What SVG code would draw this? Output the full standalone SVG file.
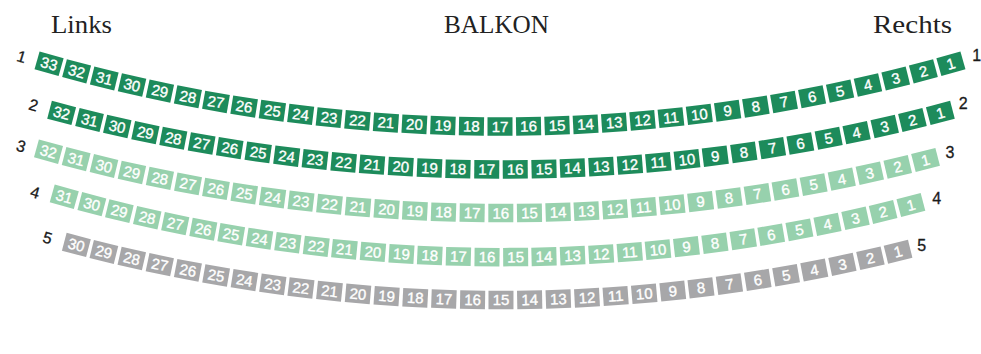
<svg xmlns="http://www.w3.org/2000/svg" width="981" height="354" viewBox="0 0 981 354">
<style>
.seat text{font-family:"Liberation Sans",Arial,sans-serif;font-size:15px;fill:#fff;stroke:#fff;stroke-width:0.35;text-anchor:middle}
.dark rect{fill:#1d8b5b}
.light rect{fill:#97d1ad}
.gray rect{fill:#a7a7a9}
.lbl{font-family:"Liberation Sans",Arial,sans-serif;font-size:16px;fill:#1a1a1a;stroke:#1a1a1a;stroke-width:0.3;text-anchor:middle}
.title{font-family:"Liberation Serif","Times New Roman",serif;font-size:26px;fill:#222}
</style>
<rect width="981" height="354" fill="#fff"/>
<g id="titles">
<text class="title" x="51" y="33" textLength="61" lengthAdjust="spacingAndGlyphs">Links</text>
<text class="title" x="444" y="33" textLength="105" lengthAdjust="spacingAndGlyphs">BALKON</text>
<text class="title" x="873" y="33" textLength="79" lengthAdjust="spacingAndGlyphs">Rechts</text>
</g>
<g id="labels">
<text class="lbl" transform="translate(20,62) rotate(16.8)">1</text>
<text class="lbl" transform="translate(32,110.5) rotate(15.6)">2</text>
<text class="lbl" transform="translate(19.5,151.5) rotate(16.3)">3</text>
<text class="lbl" transform="translate(33.5,197.8) rotate(16.7)">4</text>
<text class="lbl" transform="translate(46,243.2) rotate(15.8)">5</text>
<text class="lbl" x="976.7" y="61">1</text>
<text class="lbl" x="963.3" y="109.3">2</text>
<text class="lbl" x="950" y="157.7">3</text>
<text class="lbl" x="936.7" y="204.3">4</text>
<text class="lbl" x="921.7" y="251">5</text>
</g>
<g id="row1" class="seat dark" transform="translate(500,-1525.5)">
<g id="r1s1" transform="rotate(-15.84)"><rect x="-12.5" y="1642.75" width="25" height="18.5"/><text y="1657.3">1</text></g>
<g id="r1s2" transform="rotate(-14.85)"><rect x="-12.5" y="1642.75" width="25" height="18.5"/><text y="1657.3">2</text></g>
<g id="r1s3" transform="rotate(-13.86)"><rect x="-12.5" y="1642.75" width="25" height="18.5"/><text y="1657.3">3</text></g>
<g id="r1s4" transform="rotate(-12.87)"><rect x="-12.5" y="1642.75" width="25" height="18.5"/><text y="1657.3">4</text></g>
<g id="r1s5" transform="rotate(-11.88)"><rect x="-12.5" y="1642.75" width="25" height="18.5"/><text y="1657.3">5</text></g>
<g id="r1s6" transform="rotate(-10.89)"><rect x="-12.5" y="1642.75" width="25" height="18.5"/><text y="1657.3">6</text></g>
<g id="r1s7" transform="rotate(-9.90)"><rect x="-12.5" y="1642.75" width="25" height="18.5"/><text y="1657.3">7</text></g>
<g id="r1s8" transform="rotate(-8.91)"><rect x="-12.5" y="1642.75" width="25" height="18.5"/><text y="1657.3">8</text></g>
<g id="r1s9" transform="rotate(-7.92)"><rect x="-12.5" y="1642.75" width="25" height="18.5"/><text y="1657.3">9</text></g>
<g id="r1s10" transform="rotate(-6.93)"><rect x="-12.5" y="1642.75" width="25" height="18.5"/><text y="1657.3">10</text></g>
<g id="r1s11" transform="rotate(-5.94)"><rect x="-12.5" y="1642.75" width="25" height="18.5"/><text y="1657.3">11</text></g>
<g id="r1s12" transform="rotate(-4.95)"><rect x="-12.5" y="1642.75" width="25" height="18.5"/><text y="1657.3">12</text></g>
<g id="r1s13" transform="rotate(-3.96)"><rect x="-12.5" y="1642.75" width="25" height="18.5"/><text y="1657.3">13</text></g>
<g id="r1s14" transform="rotate(-2.97)"><rect x="-12.5" y="1642.75" width="25" height="18.5"/><text y="1657.3">14</text></g>
<g id="r1s15" transform="rotate(-1.98)"><rect x="-12.5" y="1642.75" width="25" height="18.5"/><text y="1657.3">15</text></g>
<g id="r1s16" transform="rotate(-0.99)"><rect x="-12.5" y="1642.75" width="25" height="18.5"/><text y="1657.3">16</text></g>
<g id="r1s17" transform="rotate(0)"><rect x="-12.5" y="1642.75" width="25" height="18.5"/><text y="1657.3">17</text></g>
<g id="r1s18" transform="rotate(0.99)"><rect x="-12.5" y="1642.75" width="25" height="18.5"/><text y="1657.3">18</text></g>
<g id="r1s19" transform="rotate(1.98)"><rect x="-12.5" y="1642.75" width="25" height="18.5"/><text y="1657.3">19</text></g>
<g id="r1s20" transform="rotate(2.97)"><rect x="-12.5" y="1642.75" width="25" height="18.5"/><text y="1657.3">20</text></g>
<g id="r1s21" transform="rotate(3.96)"><rect x="-12.5" y="1642.75" width="25" height="18.5"/><text y="1657.3">21</text></g>
<g id="r1s22" transform="rotate(4.95)"><rect x="-12.5" y="1642.75" width="25" height="18.5"/><text y="1657.3">22</text></g>
<g id="r1s23" transform="rotate(5.94)"><rect x="-12.5" y="1642.75" width="25" height="18.5"/><text y="1657.3">23</text></g>
<g id="r1s24" transform="rotate(6.93)"><rect x="-12.5" y="1642.75" width="25" height="18.5"/><text y="1657.3">24</text></g>
<g id="r1s25" transform="rotate(7.92)"><rect x="-12.5" y="1642.75" width="25" height="18.5"/><text y="1657.3">25</text></g>
<g id="r1s26" transform="rotate(8.91)"><rect x="-12.5" y="1642.75" width="25" height="18.5"/><text y="1657.3">26</text></g>
<g id="r1s27" transform="rotate(9.90)"><rect x="-12.5" y="1642.75" width="25" height="18.5"/><text y="1657.3">27</text></g>
<g id="r1s28" transform="rotate(10.89)"><rect x="-12.5" y="1642.75" width="25" height="18.5"/><text y="1657.3">28</text></g>
<g id="r1s29" transform="rotate(11.88)"><rect x="-12.5" y="1642.75" width="25" height="18.5"/><text y="1657.3">29</text></g>
<g id="r1s30" transform="rotate(12.87)"><rect x="-12.5" y="1642.75" width="25" height="18.5"/><text y="1657.3">30</text></g>
<g id="r1s31" transform="rotate(13.86)"><rect x="-12.5" y="1642.75" width="25" height="18.5"/><text y="1657.3">31</text></g>
<g id="r1s32" transform="rotate(14.85)"><rect x="-12.5" y="1642.75" width="25" height="18.5"/><text y="1657.3">32</text></g>
<g id="r1s33" transform="rotate(15.84)"><rect x="-12.5" y="1642.75" width="25" height="18.5"/><text y="1657.3">33</text></g>
</g>
<g id="row2" class="seat dark" transform="translate(501,-1566.5)">
<g id="r2s1" transform="rotate(-14.66)"><rect x="-12.5" y="1726.75" width="25" height="18.5"/><text y="1741.3">1</text></g>
<g id="r2s2" transform="rotate(-13.71)"><rect x="-12.5" y="1726.75" width="25" height="18.5"/><text y="1741.3">2</text></g>
<g id="r2s3" transform="rotate(-12.77)"><rect x="-12.5" y="1726.75" width="25" height="18.5"/><text y="1741.3">3</text></g>
<g id="r2s4" transform="rotate(-11.82)"><rect x="-12.5" y="1726.75" width="25" height="18.5"/><text y="1741.3">4</text></g>
<g id="r2s5" transform="rotate(-10.88)"><rect x="-12.5" y="1726.75" width="25" height="18.5"/><text y="1741.3">5</text></g>
<g id="r2s6" transform="rotate(-9.93)"><rect x="-12.5" y="1726.75" width="25" height="18.5"/><text y="1741.3">6</text></g>
<g id="r2s7" transform="rotate(-8.99)"><rect x="-12.5" y="1726.75" width="25" height="18.5"/><text y="1741.3">7</text></g>
<g id="r2s8" transform="rotate(-8.04)"><rect x="-12.5" y="1726.75" width="25" height="18.5"/><text y="1741.3">8</text></g>
<g id="r2s9" transform="rotate(-7.09)"><rect x="-12.5" y="1726.75" width="25" height="18.5"/><text y="1741.3">9</text></g>
<g id="r2s10" transform="rotate(-6.15)"><rect x="-12.5" y="1726.75" width="25" height="18.5"/><text y="1741.3">10</text></g>
<g id="r2s11" transform="rotate(-5.20)"><rect x="-12.5" y="1726.75" width="25" height="18.5"/><text y="1741.3">11</text></g>
<g id="r2s12" transform="rotate(-4.26)"><rect x="-12.5" y="1726.75" width="25" height="18.5"/><text y="1741.3">12</text></g>
<g id="r2s13" transform="rotate(-3.31)"><rect x="-12.5" y="1726.75" width="25" height="18.5"/><text y="1741.3">13</text></g>
<g id="r2s14" transform="rotate(-2.36)"><rect x="-12.5" y="1726.75" width="25" height="18.5"/><text y="1741.3">14</text></g>
<g id="r2s15" transform="rotate(-1.42)"><rect x="-12.5" y="1726.75" width="25" height="18.5"/><text y="1741.3">15</text></g>
<g id="r2s16" transform="rotate(-0.47)"><rect x="-12.5" y="1726.75" width="25" height="18.5"/><text y="1741.3">16</text></g>
<g id="r2s17" transform="rotate(0.47)"><rect x="-12.5" y="1726.75" width="25" height="18.5"/><text y="1741.3">17</text></g>
<g id="r2s18" transform="rotate(1.42)"><rect x="-12.5" y="1726.75" width="25" height="18.5"/><text y="1741.3">18</text></g>
<g id="r2s19" transform="rotate(2.36)"><rect x="-12.5" y="1726.75" width="25" height="18.5"/><text y="1741.3">19</text></g>
<g id="r2s20" transform="rotate(3.31)"><rect x="-12.5" y="1726.75" width="25" height="18.5"/><text y="1741.3">20</text></g>
<g id="r2s21" transform="rotate(4.26)"><rect x="-12.5" y="1726.75" width="25" height="18.5"/><text y="1741.3">21</text></g>
<g id="r2s22" transform="rotate(5.20)"><rect x="-12.5" y="1726.75" width="25" height="18.5"/><text y="1741.3">22</text></g>
<g id="r2s23" transform="rotate(6.15)"><rect x="-12.5" y="1726.75" width="25" height="18.5"/><text y="1741.3">23</text></g>
<g id="r2s24" transform="rotate(7.09)"><rect x="-12.5" y="1726.75" width="25" height="18.5"/><text y="1741.3">24</text></g>
<g id="r2s25" transform="rotate(8.04)"><rect x="-12.5" y="1726.75" width="25" height="18.5"/><text y="1741.3">25</text></g>
<g id="r2s26" transform="rotate(8.99)"><rect x="-12.5" y="1726.75" width="25" height="18.5"/><text y="1741.3">26</text></g>
<g id="r2s27" transform="rotate(9.93)"><rect x="-12.5" y="1726.75" width="25" height="18.5"/><text y="1741.3">27</text></g>
<g id="r2s28" transform="rotate(10.88)"><rect x="-12.5" y="1726.75" width="25" height="18.5"/><text y="1741.3">28</text></g>
<g id="r2s29" transform="rotate(11.82)"><rect x="-12.5" y="1726.75" width="25" height="18.5"/><text y="1741.3">29</text></g>
<g id="r2s30" transform="rotate(12.77)"><rect x="-12.5" y="1726.75" width="25" height="18.5"/><text y="1741.3">30</text></g>
<g id="r2s31" transform="rotate(13.71)"><rect x="-12.5" y="1726.75" width="25" height="18.5"/><text y="1741.3">31</text></g>
<g id="r2s32" transform="rotate(14.66)"><rect x="-12.5" y="1726.75" width="25" height="18.5"/><text y="1741.3">32</text></g>
</g>
<g id="row3" class="seat light" transform="translate(502.6,-1496.9)">
<g id="r3s1" transform="rotate(-14.32)"><rect x="-12.5" y="1700.75" width="25" height="18.5"/><text y="1715.3">1</text></g>
<g id="r3s2" transform="rotate(-13.36)"><rect x="-12.5" y="1700.75" width="25" height="18.5"/><text y="1715.3">2</text></g>
<g id="r3s3" transform="rotate(-12.40)"><rect x="-12.5" y="1700.75" width="25" height="18.5"/><text y="1715.3">3</text></g>
<g id="r3s4" transform="rotate(-11.44)"><rect x="-12.5" y="1700.75" width="25" height="18.5"/><text y="1715.3">4</text></g>
<g id="r3s5" transform="rotate(-10.48)"><rect x="-12.5" y="1700.75" width="25" height="18.5"/><text y="1715.3">5</text></g>
<g id="r3s6" transform="rotate(-9.52)"><rect x="-12.5" y="1700.75" width="25" height="18.5"/><text y="1715.3">6</text></g>
<g id="r3s7" transform="rotate(-8.57)"><rect x="-12.5" y="1700.75" width="25" height="18.5"/><text y="1715.3">7</text></g>
<g id="r3s8" transform="rotate(-7.61)"><rect x="-12.5" y="1700.75" width="25" height="18.5"/><text y="1715.3">8</text></g>
<g id="r3s9" transform="rotate(-6.65)"><rect x="-12.5" y="1700.75" width="25" height="18.5"/><text y="1715.3">9</text></g>
<g id="r3s10" transform="rotate(-5.69)"><rect x="-12.5" y="1700.75" width="25" height="18.5"/><text y="1715.3">10</text></g>
<g id="r3s11" transform="rotate(-4.73)"><rect x="-12.5" y="1700.75" width="25" height="18.5"/><text y="1715.3">11</text></g>
<g id="r3s12" transform="rotate(-3.77)"><rect x="-12.5" y="1700.75" width="25" height="18.5"/><text y="1715.3">12</text></g>
<g id="r3s13" transform="rotate(-2.81)"><rect x="-12.5" y="1700.75" width="25" height="18.5"/><text y="1715.3">13</text></g>
<g id="r3s14" transform="rotate(-1.86)"><rect x="-12.5" y="1700.75" width="25" height="18.5"/><text y="1715.3">14</text></g>
<g id="r3s15" transform="rotate(-0.90)"><rect x="-12.5" y="1700.75" width="25" height="18.5"/><text y="1715.3">15</text></g>
<g id="r3s16" transform="rotate(0.06)"><rect x="-12.5" y="1700.75" width="25" height="18.5"/><text y="1715.3">16</text></g>
<g id="r3s17" transform="rotate(1.02)"><rect x="-12.5" y="1700.75" width="25" height="18.5"/><text y="1715.3">17</text></g>
<g id="r3s18" transform="rotate(1.98)"><rect x="-12.5" y="1700.75" width="25" height="18.5"/><text y="1715.3">18</text></g>
<g id="r3s19" transform="rotate(2.94)"><rect x="-12.5" y="1700.75" width="25" height="18.5"/><text y="1715.3">19</text></g>
<g id="r3s20" transform="rotate(3.89)"><rect x="-12.5" y="1700.75" width="25" height="18.5"/><text y="1715.3">20</text></g>
<g id="r3s21" transform="rotate(4.85)"><rect x="-12.5" y="1700.75" width="25" height="18.5"/><text y="1715.3">21</text></g>
<g id="r3s22" transform="rotate(5.81)"><rect x="-12.5" y="1700.75" width="25" height="18.5"/><text y="1715.3">22</text></g>
<g id="r3s23" transform="rotate(6.77)"><rect x="-12.5" y="1700.75" width="25" height="18.5"/><text y="1715.3">23</text></g>
<g id="r3s24" transform="rotate(7.73)"><rect x="-12.5" y="1700.75" width="25" height="18.5"/><text y="1715.3">24</text></g>
<g id="r3s25" transform="rotate(8.69)"><rect x="-12.5" y="1700.75" width="25" height="18.5"/><text y="1715.3">25</text></g>
<g id="r3s26" transform="rotate(9.65)"><rect x="-12.5" y="1700.75" width="25" height="18.5"/><text y="1715.3">26</text></g>
<g id="r3s27" transform="rotate(10.60)"><rect x="-12.5" y="1700.75" width="25" height="18.5"/><text y="1715.3">27</text></g>
<g id="r3s28" transform="rotate(11.56)"><rect x="-12.5" y="1700.75" width="25" height="18.5"/><text y="1715.3">28</text></g>
<g id="r3s29" transform="rotate(12.52)"><rect x="-12.5" y="1700.75" width="25" height="18.5"/><text y="1715.3">29</text></g>
<g id="r3s30" transform="rotate(13.48)"><rect x="-12.5" y="1700.75" width="25" height="18.5"/><text y="1715.3">30</text></g>
<g id="r3s31" transform="rotate(14.44)"><rect x="-12.5" y="1700.75" width="25" height="18.5"/><text y="1715.3">31</text></g>
<g id="r3s32" transform="rotate(15.40)"><rect x="-12.5" y="1700.75" width="25" height="18.5"/><text y="1715.3">32</text></g>
</g>
<g id="row4" class="seat light" transform="translate(502.9,-1366.9)">
<g id="r4s1" transform="rotate(-14.55)"><rect x="-12.5" y="1614.75" width="25" height="18.5"/><text y="1629.3">1</text></g>
<g id="r4s2" transform="rotate(-13.54)"><rect x="-12.5" y="1614.75" width="25" height="18.5"/><text y="1629.3">2</text></g>
<g id="r4s3" transform="rotate(-12.54)"><rect x="-12.5" y="1614.75" width="25" height="18.5"/><text y="1629.3">3</text></g>
<g id="r4s4" transform="rotate(-11.53)"><rect x="-12.5" y="1614.75" width="25" height="18.5"/><text y="1629.3">4</text></g>
<g id="r4s5" transform="rotate(-10.52)"><rect x="-12.5" y="1614.75" width="25" height="18.5"/><text y="1629.3">5</text></g>
<g id="r4s6" transform="rotate(-9.51)"><rect x="-12.5" y="1614.75" width="25" height="18.5"/><text y="1629.3">6</text></g>
<g id="r4s7" transform="rotate(-8.51)"><rect x="-12.5" y="1614.75" width="25" height="18.5"/><text y="1629.3">7</text></g>
<g id="r4s8" transform="rotate(-7.50)"><rect x="-12.5" y="1614.75" width="25" height="18.5"/><text y="1629.3">8</text></g>
<g id="r4s9" transform="rotate(-6.49)"><rect x="-12.5" y="1614.75" width="25" height="18.5"/><text y="1629.3">9</text></g>
<g id="r4s10" transform="rotate(-5.48)"><rect x="-12.5" y="1614.75" width="25" height="18.5"/><text y="1629.3">10</text></g>
<g id="r4s11" transform="rotate(-4.48)"><rect x="-12.5" y="1614.75" width="25" height="18.5"/><text y="1629.3">11</text></g>
<g id="r4s12" transform="rotate(-3.47)"><rect x="-12.5" y="1614.75" width="25" height="18.5"/><text y="1629.3">12</text></g>
<g id="r4s13" transform="rotate(-2.46)"><rect x="-12.5" y="1614.75" width="25" height="18.5"/><text y="1629.3">13</text></g>
<g id="r4s14" transform="rotate(-1.45)"><rect x="-12.5" y="1614.75" width="25" height="18.5"/><text y="1629.3">14</text></g>
<g id="r4s15" transform="rotate(-0.45)"><rect x="-12.5" y="1614.75" width="25" height="18.5"/><text y="1629.3">15</text></g>
<g id="r4s16" transform="rotate(0.56)"><rect x="-12.5" y="1614.75" width="25" height="18.5"/><text y="1629.3">16</text></g>
<g id="r4s17" transform="rotate(1.57)"><rect x="-12.5" y="1614.75" width="25" height="18.5"/><text y="1629.3">17</text></g>
<g id="r4s18" transform="rotate(2.58)"><rect x="-12.5" y="1614.75" width="25" height="18.5"/><text y="1629.3">18</text></g>
<g id="r4s19" transform="rotate(3.58)"><rect x="-12.5" y="1614.75" width="25" height="18.5"/><text y="1629.3">19</text></g>
<g id="r4s20" transform="rotate(4.59)"><rect x="-12.5" y="1614.75" width="25" height="18.5"/><text y="1629.3">20</text></g>
<g id="r4s21" transform="rotate(5.60)"><rect x="-12.5" y="1614.75" width="25" height="18.5"/><text y="1629.3">21</text></g>
<g id="r4s22" transform="rotate(6.60)"><rect x="-12.5" y="1614.75" width="25" height="18.5"/><text y="1629.3">22</text></g>
<g id="r4s23" transform="rotate(7.61)"><rect x="-12.5" y="1614.75" width="25" height="18.5"/><text y="1629.3">23</text></g>
<g id="r4s24" transform="rotate(8.62)"><rect x="-12.5" y="1614.75" width="25" height="18.5"/><text y="1629.3">24</text></g>
<g id="r4s25" transform="rotate(9.63)"><rect x="-12.5" y="1614.75" width="25" height="18.5"/><text y="1629.3">25</text></g>
<g id="r4s26" transform="rotate(10.63)"><rect x="-12.5" y="1614.75" width="25" height="18.5"/><text y="1629.3">26</text></g>
<g id="r4s27" transform="rotate(11.64)"><rect x="-12.5" y="1614.75" width="25" height="18.5"/><text y="1629.3">27</text></g>
<g id="r4s28" transform="rotate(12.65)"><rect x="-12.5" y="1614.75" width="25" height="18.5"/><text y="1629.3">28</text></g>
<g id="r4s29" transform="rotate(13.66)"><rect x="-12.5" y="1614.75" width="25" height="18.5"/><text y="1629.3">29</text></g>
<g id="r4s30" transform="rotate(14.66)"><rect x="-12.5" y="1614.75" width="25" height="18.5"/><text y="1629.3">30</text></g>
<g id="r4s31" transform="rotate(15.67)"><rect x="-12.5" y="1614.75" width="25" height="18.5"/><text y="1629.3">31</text></g>
</g>
<g id="row5" class="seat gray" transform="translate(500.4,-1360)">
<g id="r5s1" transform="rotate(-13.86)"><rect x="-12.5" y="1650.75" width="25" height="18.5"/><text y="1665.3">1</text></g>
<g id="r5s2" transform="rotate(-12.88)"><rect x="-12.5" y="1650.75" width="25" height="18.5"/><text y="1665.3">2</text></g>
<g id="r5s3" transform="rotate(-11.89)"><rect x="-12.5" y="1650.75" width="25" height="18.5"/><text y="1665.3">3</text></g>
<g id="r5s4" transform="rotate(-10.90)"><rect x="-12.5" y="1650.75" width="25" height="18.5"/><text y="1665.3">4</text></g>
<g id="r5s5" transform="rotate(-9.91)"><rect x="-12.5" y="1650.75" width="25" height="18.5"/><text y="1665.3">5</text></g>
<g id="r5s6" transform="rotate(-8.92)"><rect x="-12.5" y="1650.75" width="25" height="18.5"/><text y="1665.3">6</text></g>
<g id="r5s7" transform="rotate(-7.93)"><rect x="-12.5" y="1650.75" width="25" height="18.5"/><text y="1665.3">7</text></g>
<g id="r5s8" transform="rotate(-6.94)"><rect x="-12.5" y="1650.75" width="25" height="18.5"/><text y="1665.3">8</text></g>
<g id="r5s9" transform="rotate(-5.96)"><rect x="-12.5" y="1650.75" width="25" height="18.5"/><text y="1665.3">9</text></g>
<g id="r5s10" transform="rotate(-4.97)"><rect x="-12.5" y="1650.75" width="25" height="18.5"/><text y="1665.3">10</text></g>
<g id="r5s11" transform="rotate(-3.98)"><rect x="-12.5" y="1650.75" width="25" height="18.5"/><text y="1665.3">11</text></g>
<g id="r5s12" transform="rotate(-2.99)"><rect x="-12.5" y="1650.75" width="25" height="18.5"/><text y="1665.3">12</text></g>
<g id="r5s13" transform="rotate(-2.00)"><rect x="-12.5" y="1650.75" width="25" height="18.5"/><text y="1665.3">13</text></g>
<g id="r5s14" transform="rotate(-1.01)"><rect x="-12.5" y="1650.75" width="25" height="18.5"/><text y="1665.3">14</text></g>
<g id="r5s15" transform="rotate(-0.02)"><rect x="-12.5" y="1650.75" width="25" height="18.5"/><text y="1665.3">15</text></g>
<g id="r5s16" transform="rotate(0.96)"><rect x="-12.5" y="1650.75" width="25" height="18.5"/><text y="1665.3">16</text></g>
<g id="r5s17" transform="rotate(1.95)"><rect x="-12.5" y="1650.75" width="25" height="18.5"/><text y="1665.3">17</text></g>
<g id="r5s18" transform="rotate(2.94)"><rect x="-12.5" y="1650.75" width="25" height="18.5"/><text y="1665.3">18</text></g>
<g id="r5s19" transform="rotate(3.93)"><rect x="-12.5" y="1650.75" width="25" height="18.5"/><text y="1665.3">19</text></g>
<g id="r5s20" transform="rotate(4.92)"><rect x="-12.5" y="1650.75" width="25" height="18.5"/><text y="1665.3">20</text></g>
<g id="r5s21" transform="rotate(5.91)"><rect x="-12.5" y="1650.75" width="25" height="18.5"/><text y="1665.3">21</text></g>
<g id="r5s22" transform="rotate(6.90)"><rect x="-12.5" y="1650.75" width="25" height="18.5"/><text y="1665.3">22</text></g>
<g id="r5s23" transform="rotate(7.88)"><rect x="-12.5" y="1650.75" width="25" height="18.5"/><text y="1665.3">23</text></g>
<g id="r5s24" transform="rotate(8.87)"><rect x="-12.5" y="1650.75" width="25" height="18.5"/><text y="1665.3">24</text></g>
<g id="r5s25" transform="rotate(9.86)"><rect x="-12.5" y="1650.75" width="25" height="18.5"/><text y="1665.3">25</text></g>
<g id="r5s26" transform="rotate(10.85)"><rect x="-12.5" y="1650.75" width="25" height="18.5"/><text y="1665.3">26</text></g>
<g id="r5s27" transform="rotate(11.84)"><rect x="-12.5" y="1650.75" width="25" height="18.5"/><text y="1665.3">27</text></g>
<g id="r5s28" transform="rotate(12.83)"><rect x="-12.5" y="1650.75" width="25" height="18.5"/><text y="1665.3">28</text></g>
<g id="r5s29" transform="rotate(13.82)"><rect x="-12.5" y="1650.75" width="25" height="18.5"/><text y="1665.3">29</text></g>
<g id="r5s30" transform="rotate(14.80)"><rect x="-12.5" y="1650.75" width="25" height="18.5"/><text y="1665.3">30</text></g>
</g>
</svg>
